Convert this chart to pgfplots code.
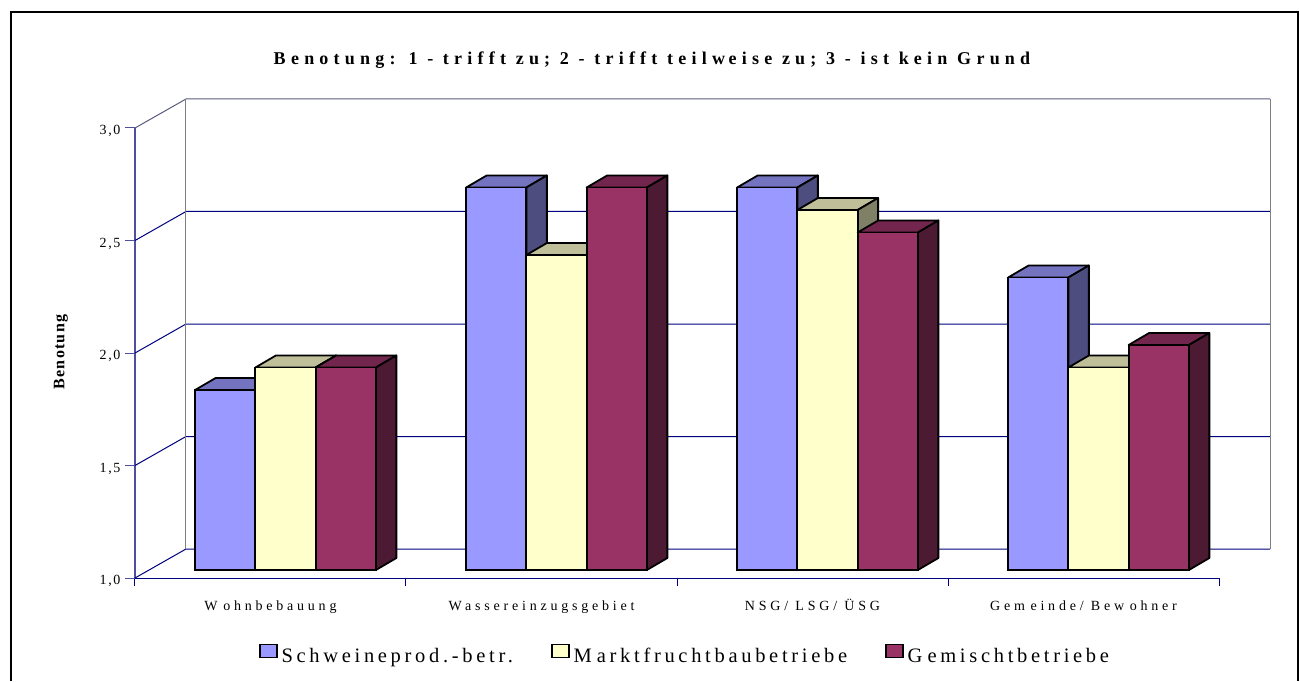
\documentclass[border=0pt]{standalone}
\usepackage{pgfplots}
\pgfplotsset{compat=1.18}
\usepackage{fontspec}
\setmainfont{Liberation Serif}
\newfontfamily\titlefont[LetterSpace=29]{Liberation Serif}
\newfontfamily\tickfont[LetterSpace=27]{Liberation Serif}
\newfontfamily\valuefont[LetterSpace=12]{Liberation Serif}
\newfontfamily\legendfont[LetterSpace=18]{Liberation Serif}
\newfontfamily\labelfont[LetterSpace=8]{Liberation Serif}

\definecolor{serA}{HTML}{9999FF}\definecolor{serAtop}{HTML}{7373BF}\definecolor{serAside}{HTML}{4D4D80}
\definecolor{serB}{HTML}{FFFFCC}\definecolor{serBtop}{HTML}{BFBF99}\definecolor{serBside}{HTML}{808066}
\definecolor{serC}{HTML}{993366}\definecolor{serCtop}{HTML}{73264D}\definecolor{serCside}{HTML}{4D1A33}
\definecolor{gridnavy}{HTML}{000080}
\definecolor{wallgrey}{HTML}{808080}
\definecolor{axisslate}{HTML}{4F4F9F}

% depth of the chart floor and of a bar, in axis units
\newcommand\walldx{0.18819}
\newcommand\walldy{0.12889}
\newcommand\bardx{0.07565}
\newcommand\bardy{0.05333}

% top and side face of one bar: #1 category centre, #2 bar shift in category units,
% #3 value, #4 top colour, #5 side colour
\newcommand\barfaces[5]{%
  \pgfmathsetmacro\xl{#1+#2-0.11116}%
  \pgfmathsetmacro\xr{#1+#2+0.11116}%
  \pgfmathsetmacro\xlb{\xl+\bardx}%
  \pgfmathsetmacro\xrb{\xr+\bardx}%
  \pgfmathsetmacro\vb{#3+\bardy}%
  \pgfmathsetmacro\zb{1+\bardy}%
  \edef\next{\noexpand\addplot[forget plot,fill=#4,draw=black,line width=1.8pt,line join=round,yshift=8pt]
    coordinates {(\xl,#3)(\xlb,\vb)(\xrb,\vb)(\xr,#3)} -- cycle;
    \noexpand\addplot[forget plot,fill=#5,draw=black,line width=1.8pt,line join=round,yshift=8pt]
    coordinates {(\xr,1)(\xrb,\zb)(\xrb,\vb)(\xr,#3)} -- cycle;}%
  \next}

% wall gridline with its run along the side of the floor
\newcommand\wallline[2]{%
  \pgfmathsetmacro\vb{#1+\walldy}%
  \pgfmathsetmacro\xb{4+\walldx}%
  \edef\next{\noexpand\addplot[forget plot,#2,line width=1pt]
    coordinates {(0,#1)(\walldx,\vb)(\xb,\vb)};}%
  \next}

\begin{document}
\begin{tikzpicture}
\path[use as bounding box] (-135pt,-103pt) rectangle (1165pt,578pt);
\draw[black,line width=2.2pt] (-124pt,-103pt) -- (-124pt,566pt) -- (1163pt,566pt) -- (1163pt,-103pt);
\begin{axis}[
  scale only axis, width=1084pt, height=450pt,
  clip=false,
  xmin=0, xmax=4, ymin=1, ymax=3,
  axis x line*=bottom, axis y line*=left,
  x axis line style={-,gridnavy,line width=1pt},
  y axis line style={-,axisslate,line width=1.5pt},
  xtick={0.5,1.5,2.5,3.5},
  xticklabels={W\kern.4em ohnbebauung,W\kern.25em assereinzugsgebiet,NSG/ LSG/ ÜSG,Gem\kern.4em einde/ Bew\kern.4em ohner},
  minor xtick={0,1,2,3,4},
  major x tick style={draw=none},
  minor x tick style={gridnavy,line width=1pt},
  minor tick length=8pt,
  tick align=outside,
  ytick={1,1.5,2,2.5,3},
  y tick style={axisslate,line width=1pt},
  major tick length=10pt,
  /pgf/number format/assume math mode=true,
  /pgf/number format/use comma,
  /pgf/number format/fixed,
  /pgf/number format/fixed zerofill,
  /pgf/number format/precision=1,
  yticklabel style={font=\valuefont\fontsize{14}{16}\selectfont,xshift=-1pt,yshift=-3pt},
  xticklabel style={font=\tickfont\fontsize{14}{16}\selectfont,text height=10pt,text depth=3pt,yshift=-9pt},
  title={B\kern.3em enotung: 1 - trifft zu; 2 - trifft teilw\kern.2em eise zu; 3 - ist kein G\kern.3em rund},
  title style={font=\titlefont\bfseries\fontsize{18}{20}\selectfont,at={(axis description cs:0.4769,1.1378)},anchor=center},
  ylabel={Benotung},
  ylabel style={font=\labelfont\bfseries\fontsize{16}{18}\selectfont,at={(axis description cs:-0.0683,0.502)},anchor=center},
  legend style={at={(axis description cs:0.5074,-0.1714)},anchor=center,draw=none,fill=none,
    font=\legendfont\fontsize{20.5}{22}\selectfont,legend columns=3,
    /tikz/every even column/.style={column sep=36pt},
    /tikz/every odd column/.style={column sep=2pt}},
  legend cell align=left,
]
% back walls and gridlines
\wallline{1}{gridnavy}
\wallline{1.5}{gridnavy}
\wallline{2}{gridnavy}
\wallline{2.5}{gridnavy}
\wallline{3}{wallgrey!70!gridnavy}
\addplot[forget plot,wallgrey,line width=1pt] coordinates {(0.18819,1.12889)(0.18819,3.12889)};
\addplot[forget plot,wallgrey,line width=1pt] coordinates {(4.18819,1.12889)(4.18819,3.12889)};

% Schweineprod.-betr.
\barfaces{0.5}{-0.16697}{1.8}{serAtop}{serAside}
\barfaces{1.5}{-0.16697}{2.7}{serAtop}{serAside}
\barfaces{2.5}{-0.16697}{2.7}{serAtop}{serAside}
\barfaces{3.5}{-0.16697}{2.3}{serAtop}{serAside}
\addplot[forget plot,ybar,bar width=60.25pt,bar shift=-45.25pt,yshift=8pt,fill=serA,draw=black,line width=1.8pt]
  coordinates {(0.5,1.8)(1.5,2.7)(2.5,2.7)(3.5,2.3)};

% Marktfruchtbaubetriebe
\barfaces{0.5}{0.05535}{1.9}{serBtop}{serBside}
\barfaces{1.5}{0.05535}{2.4}{serBtop}{serBside}
\barfaces{2.5}{0.05535}{2.6}{serBtop}{serBside}
\barfaces{3.5}{0.05535}{1.9}{serBtop}{serBside}
\addplot[forget plot,ybar,bar width=60.25pt,bar shift=15pt,yshift=8pt,fill=serB,draw=black,line width=1.8pt]
  coordinates {(0.5,1.9)(1.5,2.4)(2.5,2.6)(3.5,1.9)};

% Gemischtbetriebe
\barfaces{0.5}{0.27768}{1.9}{serCtop}{serCside}
\barfaces{1.5}{0.27768}{2.7}{serCtop}{serCside}
\barfaces{2.5}{0.27768}{2.5}{serCtop}{serCside}
\barfaces{3.5}{0.27768}{2.0}{serCtop}{serCside}
\addplot[forget plot,ybar,bar width=60.25pt,bar shift=75.25pt,yshift=8pt,fill=serC,draw=black,line width=1.8pt]
  coordinates {(0.5,1.9)(1.5,2.7)(2.5,2.5)(3.5,2.0)};

% legend swatches
\addlegendimage{legend image code/.code={\draw[fill=serA,draw=black,line width=1.5pt] (0pt,-1pt) rectangle (17pt,12pt);}}
\addlegendentry{Schweineprod.-betr.}
\addlegendimage{legend image code/.code={\draw[fill=serB,draw=black,line width=1.5pt] (0pt,-1pt) rectangle (17pt,12pt);}}
\addlegendentry{M\kern.25em arktfruchtbaubetriebe}
\addlegendimage{legend image code/.code={\draw[fill=serC,draw=black,line width=1.5pt] (0pt,-1pt) rectangle (17pt,12pt);}}
\addlegendentry{G\kern.25em emischtbetriebe}
\end{axis}
\end{tikzpicture}
\end{document}
